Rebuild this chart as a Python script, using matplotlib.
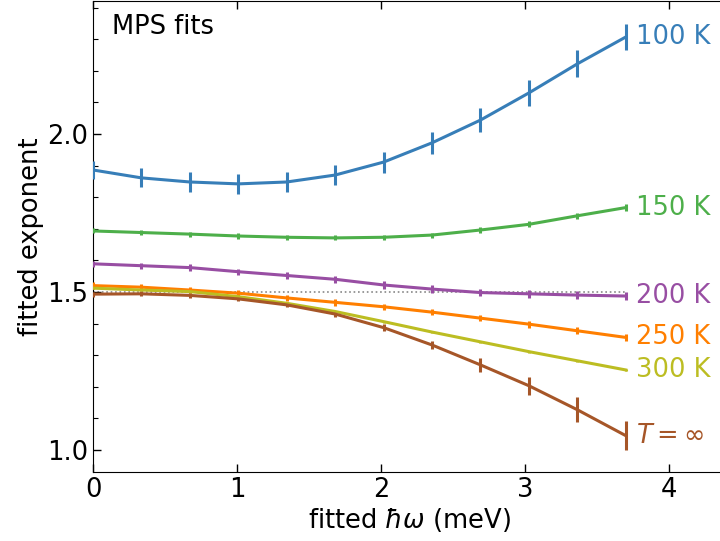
import numpy as np
import matplotlib
matplotlib.use("Agg")
import matplotlib.pyplot as plt
from matplotlib.ticker import MultipleLocator

# ================== DATA ==================
hw = np.linspace(0, 3.7, 12)

exp_100 = [1.886, 1.861, 1.848, 1.842, 1.848, 1.870, 1.911, 1.972, 2.044, 2.130, 2.222, 2.307]
err_100 = [0.030, 0.030, 0.031, 0.032, 0.032, 0.033, 0.033, 0.035, 0.039, 0.042, 0.043, 0.042]

exp_150 = [1.693, 1.688, 1.683, 1.677, 1.673, 1.671, 1.673, 1.680, 1.696, 1.714, 1.741, 1.767]
err_150 = [0.008, 0.008, 0.008, 0.008, 0.008, 0.008, 0.008, 0.008, 0.009, 0.009, 0.010, 0.010]

exp_200 = [1.589, 1.583, 1.577, 1.564, 1.552, 1.540, 1.522, 1.509, 1.498, 1.494, 1.490, 1.487]
err_200 = [0.010, 0.010, 0.010, 0.010, 0.011, 0.011, 0.012, 0.012, 0.012, 0.012, 0.012, 0.012]

exp_250 = [1.520, 1.515, 1.506, 1.496, 1.481, 1.467, 1.453, 1.436, 1.417, 1.398, 1.377, 1.356]
err_250 = [0.010, 0.010, 0.010, 0.010, 0.010, 0.010, 0.010, 0.010, 0.010, 0.011, 0.011, 0.012]

exp_300 = [1.512, 1.506, 1.501, 1.485, 1.464, 1.438, 1.406, 1.373, 1.342, 1.311, 1.282, 1.253]
err_300 = [0.003, 0.003, 0.003, 0.003, 0.003, 0.003, 0.003, 0.003, 0.003, 0.003, 0.003, 0.003]

exp_inf = [1.493, 1.494, 1.489, 1.478, 1.459, 1.430, 1.387, 1.332, 1.269, 1.203, 1.127, 1.045]
err_inf = [0.008, 0.008, 0.008, 0.008, 0.008, 0.008, 0.010, 0.014, 0.023, 0.029, 0.040, 0.045]

labels = ["100 K", "150 K", "200 K", "250 K", "300 K", r"$T=\infty$"]
colors = ["#377eb8", "#4daf4a", "#984ea3", "#ff7f00", "#bcbd22", "#a65628"]
series = [exp_100, exp_150, exp_200, exp_250, exp_300, exp_inf]
errors = [err_100, err_150, err_200, err_250, err_300, err_inf]
# ==========================================

plt.rcParams["font.size"] = 18.5
plt.rcParams["mathtext.fontset"] = "dejavusans"

W, H = 720, 541
fig = plt.figure(figsize=(W / 100, H / 100), dpi=100)
# axes intentionally runs a bit past the right edge of the canvas
left_px, right_px, top_px, bottom_px = 93, 725, 1, 472
ax = fig.add_axes([left_px / W, (H - bottom_px) / H,
                   (right_px - left_px) / W, (bottom_px - top_px) / H])

ax.plot([hw[0], hw[-1]], [1.5, 1.5], ":", color="#888888", lw=1.2, zorder=1)

for y, e, c, lab in zip(series, errors, colors, labels):
    ax.errorbar(hw, y, yerr=e, color=c, lw=2.2, elinewidth=2.2, capsize=0, zorder=3)
    ax.text(hw[-1] + 0.07, y[-1], lab, color=c, ha="left", va="center")

ax.text(0.13, 2.34, "MPS fits", ha="left", va="center")

ax.set_xlim(0, (right_px - left_px) / 144)
ax.set_ylim(0.930, 2.0 + 133 / 316)
ax.xaxis.set_major_locator(MultipleLocator(1))
ax.yaxis.set_major_locator(MultipleLocator(0.5))
ax.yaxis.set_minor_locator(MultipleLocator(0.1))
ax.tick_params(which="both", direction="in", top=True, right=False)
ax.tick_params(which="major", length=6, width=1)
ax.tick_params(which="minor", length=3.5, width=0.8)
ax.tick_params(axis="x", which="minor", bottom=False, top=False)
ax.spines["right"].set_visible(False)

ax.set_xlabel(r"fitted $\hbar\omega$ (meV)", labelpad=2)
ax.set_ylabel("fitted exponent", labelpad=2)

fig.savefig("out.png", dpi=100)
